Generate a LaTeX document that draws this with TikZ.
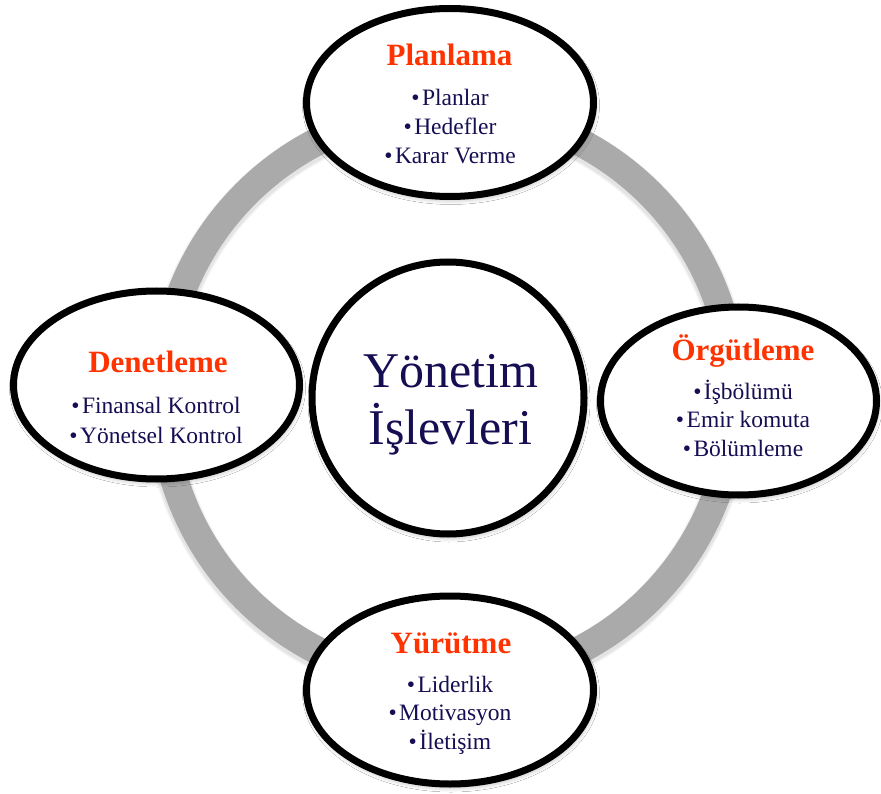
\documentclass[tikz,border=0pt]{standalone}
\usepackage{fontspec}
\setmainfont{Liberation Serif}
\usetikzlibrary{shapes.geometric,shadows.blur}
\definecolor{ringgray}{RGB}{170,170,170}
\definecolor{headred}{RGB}{255,51,0}
\definecolor{inknavy}{RGB}{22,14,82}
\newcommand{\itm}[1]{•\hspace{2.5pt}#1}
\begin{document}
\begin{tikzpicture}[x=1pt,y=-1pt,
  bubble/.style={ellipse, draw=black, line width=7pt, fill=white, inner sep=0pt,
    blur shadow={shadow xshift=1pt, shadow yshift=-3pt, shadow blur radius=5pt, shadow opacity=35}},
  hub/.style={circle, draw=black, line width=7pt, fill=white, inner sep=0pt,
    blur shadow={shadow xshift=1pt, shadow yshift=-3pt, shadow blur radius=5pt, shadow opacity=35}},
  head/.style={anchor=base, text=headred, font=\fontsize{31}{31}\selectfont\bfseries},
  items/.style={anchor=base, text=inknavy, font=\fontsize{23.5}{28.7}\selectfont},
  core/.style={anchor=base, text=inknavy, font=\fontsize{50}{50}\selectfont},
]
\useasboundingbox (0,0) rectangle (881,794);
\fill[white] (0,0) rectangle (881,794);

% grey ring behind the bubbles, with a faint shadow below it
\coordinate (ringc) at (448,396);
\foreach \k in {1,...,3}
  \draw[black, opacity=0.035, line width={28+2*\k}] ([yshift=-3pt]ringc) circle (286);
\draw[ringgray, line width=28] (ringc) circle (286);

% centre circle
\node[hub, minimum size=272] (core) at (448,398) {};
\node[core] (core-t) at (450.5,388) {\begin{tabular}[t]{@{}c@{}}Yönetim\\İşlevleri\end{tabular}};

% planning
\node[bubble, minimum width=287, minimum height=188] (plan) at (450,102.5) {};
\node[head] (plan-h) at (449.5,66) {Planlama};
\node[items] (plan-l) at (450,106) {\begin{tabular}[t]{@{}c@{}}\itm{Planlar}\\ \itm{Hedefler}\\ \itm{Karar Verme}\end{tabular}};

% organising
\node[bubble, minimum width=276, minimum height=188] (org) at (738.5,401) {};
\node[head] (org-h) at (743,360) {Örgütleme};
\node[items] (org-l) at (743,399) {\begin{tabular}[t]{@{}c@{}}\itm{İşbölümü}\\ \itm{Emir komuta}\\ \itm{Bölümleme}\end{tabular}};

% directing
\node[bubble, minimum width=287, minimum height=188] (yur) at (450,690) {};
\node[head] (yur-h) at (451,653) {Yürütme};
\node[items] (yur-l) at (450,692) {\begin{tabular}[t]{@{}c@{}}\itm{Liderlik}\\ \itm{Motivasyon}\\ \itm{İletişim}\end{tabular}};

% controlling
\node[bubble, minimum width=286, minimum height=188] (den) at (156.5,385) {};
\node[head] (den-h) at (158,373) {Denetleme};
\node[items, font=\fontsize{23.5}{30}\selectfont] (den-l) at (156,413) {\begin{tabular}[t]{@{}c@{}}\itm{Finansal Kontrol}\\ \itm{Yönetsel Kontrol}\end{tabular}};
\end{tikzpicture}
\end{document}
